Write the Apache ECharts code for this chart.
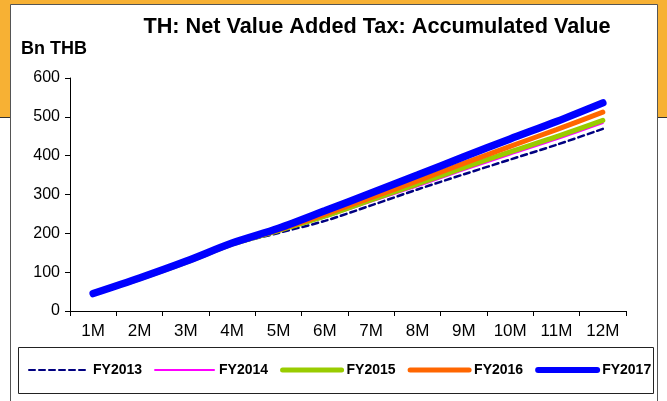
<!DOCTYPE html>
<html>
<head>
<meta charset="utf-8">
<script src="https://cdn.jsdelivr.net/npm/echarts@6/dist/echarts.min.js"></script>
<style>
  html, body { margin: 0; padding: 0; background: #ffffff; }
  #chart { width: 667px; height: 401px; }
</style>
</head>
<body>
<div id="chart"></div>
<script>
// Accumulated net VAT by fiscal month, billion THB
const months = ['1M', '2M', '3M', '4M', '5M', '6M', '7M', '8M', '9M', '10M', '11M', '12M'];
const fy2013 = [44, 83, 124, 170, 201, 232, 272, 313, 352, 390, 428, 469];
const fy2014 = [45, 83, 125, 171, 206, 241, 282, 321, 363, 403, 442, 484];
const fy2015 = [45, 83, 125, 172, 207, 244, 286, 327, 369, 410, 449, 491];
const fy2016 = [45, 85, 127, 173, 209, 249, 292, 335, 380, 424, 467, 512];
const fy2017 = [45, 85, 128, 175, 213, 258, 304, 350, 397, 443, 488, 536];
const yTicks = { min: 0, max: 600, step: 100 };

const FONT = '"Liberation Sans", Arial, sans-serif';
const chart = echarts.init(document.getElementById('chart'), null, { renderer: 'canvas' });

const styles = {
  FY2013: { color: '#000080', width: 2.5, legendWidth: 2, type: [6, 4] },
  FY2014: { color: '#FF00FF', width: 2, legendWidth: 2, type: 'solid' },
  FY2015: { color: '#99CC00', width: 5, legendWidth: 5, type: 'solid' },
  FY2016: { color: '#FF6600', width: 5, legendWidth: 5, type: 'solid' },
  FY2017: { color: '#0000FF', width: 7.5, legendWidth: 6, type: 'solid' }
};

function lineSeries(name, data) {
  const s = styles[name];
  return {
    name: name,
    type: 'line',
    data: data,
    smooth: 0.3,
    symbol: 'none',
    lineStyle: { color: s.color, width: s.width, type: s.type, cap: 'round' },
    itemStyle: { color: s.color },
    emphasis: { disabled: true },
    z: 2
  };
}

const legendNames = ['FY2013', 'FY2014', 'FY2015', 'FY2016', 'FY2017'];

chart.setOption({
  animation: false,
  backgroundColor: '#ffffff',
  textStyle: { fontFamily: FONT },
  graphic: [
    // orange header band behind the chart box
    { type: 'rect', silent: true, z: -10, shape: { x: 0, y: 0, width: 667, height: 117 },
      style: { fill: '#F7B134' } },
    { type: 'line', silent: true, z: -9, shape: { x1: 0, y1: 117.5, x2: 667, y2: 117.5 },
      style: { stroke: '#333333', lineWidth: 1 } },
    // white chart box
    { type: 'rect', silent: true, z: -8, shape: { x: 10.5, y: 4.5, width: 647, height: 400 },
      style: { fill: '#ffffff', stroke: '#555555', lineWidth: 1 } },
    // legend frame
    { type: 'rect', silent: true, z: -7, shape: { x: 18.5, y: 347.5, width: 635, height: 46 },
      style: { fill: '#ffffff', stroke: '#222222', lineWidth: 1 } },
    { type: 'text', silent: true, left: 21, top: 40,
      style: { text: 'Bn THB', fontFamily: FONT, fontSize: 18, fontWeight: 'bold', fill: '#000000' } }
  ],
  title: {
    text: 'TH: Net Value Added Tax: Accumulated Value',
    left: 372, top: 11, textAlign: 'center',
    textStyle: { fontFamily: FONT, fontSize: 21.7, fontWeight: 'bold', color: '#000000' }
  },
  legend: {
    left: 28, top: 363, width: 640, padding: 0,
    itemWidth: 59, itemHeight: 14, itemGap: 12,
    selectedMode: false,
    textStyle: { fontFamily: FONT, fontSize: 14, fontWeight: 'bold', color: '#000000' },
    data: legendNames.map(function (n) {
      const s = styles[n];
      return {
        name: n,
        itemStyle: { opacity: 0 },
        lineStyle: { color: s.color, width: s.legendWidth, type: s.type, cap: 'round' }
      };
    })
  },
  grid: { left: 70, right: 41, top: 78, bottom: 90, containLabel: false },
  xAxis: {
    type: 'category',
    data: months,
    boundaryGap: true,
    axisLine: { lineStyle: { color: '#000000', width: 1 } },
    axisTick: { show: true, length: 5, alignWithLabel: false, lineStyle: { color: '#000000' } },
    axisLabel: { fontFamily: FONT, fontSize: 17, color: '#000000', margin: 12, interval: 0 },
    splitLine: { show: false }
  },
  yAxis: {
    type: 'value',
    min: yTicks.min, max: yTicks.max, interval: yTicks.step,
    axisLine: { show: true, lineStyle: { color: '#000000', width: 1 } },
    axisTick: { show: true, length: 5, lineStyle: { color: '#000000' } },
    axisLabel: { fontFamily: FONT, fontSize: 16, color: '#000000', margin: 10 },
    splitLine: { show: false }
  },
  series: [
    lineSeries('FY2013', fy2013),
    lineSeries('FY2014', fy2014),
    lineSeries('FY2015', fy2015),
    lineSeries('FY2016', fy2016),
    lineSeries('FY2017', fy2017)
  ]
});
</script>
</body>
</html>
